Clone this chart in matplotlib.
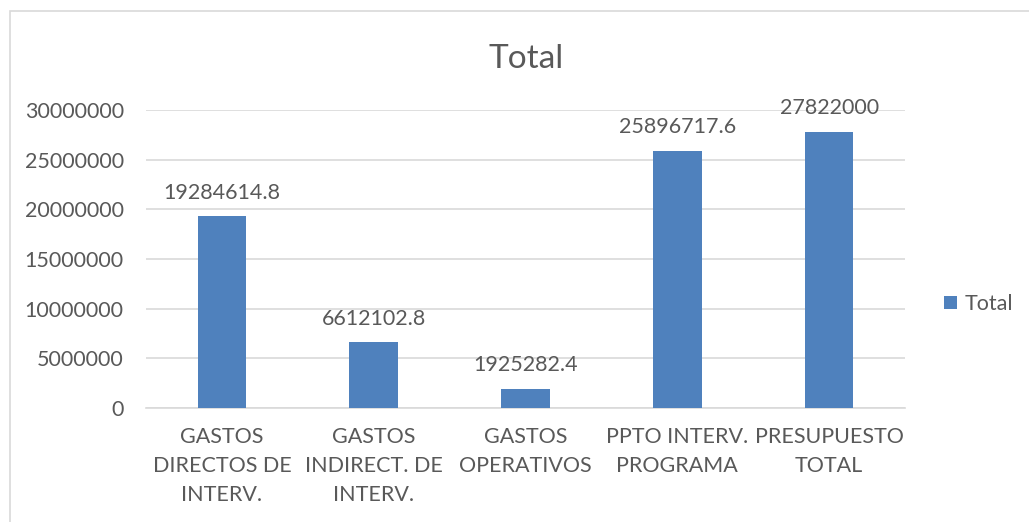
import matplotlib
matplotlib.use('Agg')
import matplotlib.pyplot as plt
from matplotlib.patches import Rectangle

categories = ['GASTOS\nDIRECTOS DE\nINTERV.', 'GASTOS\nINDIRECT. DE\nINTERV.',
              'GASTOS\nOPERATIVOS', 'PPTO INTERV.\nPROGRAMA', 'PRESUPUESTO\nTOTAL']
values = [19284614.8, 6612102.8, 1925282.4, 25896717.6, 27822000]
value_labels = ['19284614.8', '6612102.8', '1925282.4', '25896717.6', '27822000']
yticks = [0, 5000000, 10000000, 15000000, 20000000, 25000000, 30000000]

plt.rcParams['font.family'] = ['Lato', 'DejaVu Sans']
txt = '#595959'
bar_color = '#4F81BD'
fs = 15.5

fig = plt.figure(figsize=(10.29, 5.22), dpi=100)
# chart border (only left and top visible in the crop)
fig.patches.append(Rectangle((10 / 1029, -0.1), 1.2, 1 - 11 / 522 + 0.1,
                             transform=fig.transFigure, fill=False,
                             edgecolor='#D9D9D9', linewidth=1.2))
ax = fig.add_axes([146 / 1029, 1 - 408 / 522, (905 - 146) / 1029, (408 - 110) / 522])

x = range(len(categories))
bars = ax.bar(x, values, width=0.32, color=bar_color, label='Total', zorder=3)
for xi, v, lab in zip(x, values, value_labels):
    ax.annotate(lab, (xi, v), xytext=(0, 17), textcoords='offset points',
                ha='center', va='center', fontsize=fs, color=txt)

ax.set_xlim(-0.5, len(categories) - 0.5)
ax.set_ylim(0, 30000000)
ax.set_yticks(yticks)
ax.set_yticklabels([str(t) for t in yticks])
ax.set_xticks(list(x))
ax.set_xticklabels(categories, linespacing=1.55)
ax.tick_params(axis='both', length=0, labelsize=fs, labelcolor=txt)
ax.tick_params(axis='x', pad=14)
ax.tick_params(axis='y', pad=16)
ax.grid(axis='y', color='#D9D9D9', linewidth=1.2, zorder=0)
for s in ['top', 'right', 'left']:
    ax.spines[s].set_visible(False)
ax.spines['bottom'].set_color('#D9D9D9')
ax.spines['bottom'].set_linewidth(1.2)

fig.text(526 / 1029, 1 - 59 / 522, 'Total', ha='center', va='center', fontsize=24, color=txt)
fig.legend(handles=[bars], labels=['Total'], loc='center left',
           bbox_to_anchor=(944 / 1029, 1 - 304 / 522), frameon=False,
           fontsize=fs, labelcolor=txt, handlelength=0.6, handleheight=0.6,
           handletextpad=0.35, borderaxespad=0, borderpad=0)

fig.savefig('out.png', dpi=100)
